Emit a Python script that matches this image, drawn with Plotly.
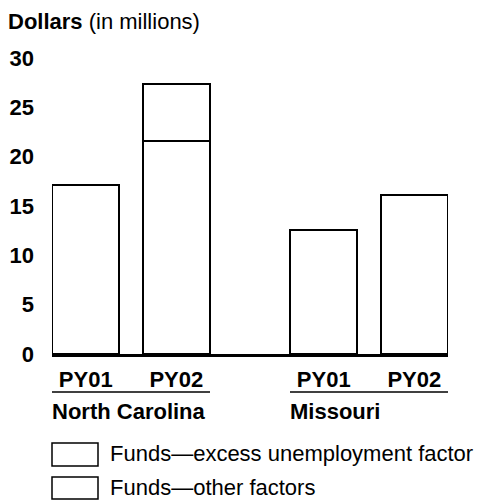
import plotly.graph_objects as go

# ---- data ----
states = ["North Carolina", "Missouri"]
years = ["PY01", "PY02"]
series_names = ["Funds\u2014excess unemployment factor", "Funds\u2014other factors"]
excess_unemp = [None, 5.75, None, None]      # top segment
other_factors = [17.1, 21.6, 12.6, 16.1]     # bottom segment
y_ticks = [0, 5, 10, 15, 20, 25, 30]

# ---- layout helpers ----
FONT = "Liberation Sans, Arial, sans-serif"
group_gap = 2.627   # spacing between group starts (in bar slots)
bar_w = 0.744
positions = []
tick_text = []
for gi, st in enumerate(states):
    for yi, yr in enumerate(years):
        positions.append(gi * group_gap + yi)
        tick_text.append(yr)

OFF = 8  # page body margin
W, H = 485 - OFF, 500 - OFF
PL, PR, PT, PB = 52, 448, 58, 354   # plot area in page pixels
ml, mr = PL - OFF, W - (PR - OFF)
mt, mb = PT - OFF, H - (PB - OFF)
pw, ph = PR - PL, PB - PT

def px_x(px):
    return (px - PL) / pw

def px_y(py):
    return (PB - py) / ph

fig = go.Figure()
fig.add_trace(go.Bar(
    x=positions, y=other_factors, name=series_names[1], width=bar_w,
    marker=dict(color="white", line=dict(color="black", width=2)),
    showlegend=False,
))
fig.add_trace(go.Bar(
    x=positions, y=excess_unemp, name=series_names[0], width=bar_w,
    marker=dict(color="white", line=dict(color="black", width=2)),
    showlegend=False,
))

shapes = []
annotations = []
x_lo = positions[0] - bar_w / 2
x_hi = positions[-1] + bar_w / 2

def data_to_paper(x):
    return (x - x_lo) / (x_hi - x_lo)

# group underlines and labels
for gi, st in enumerate(states):
    x0 = positions[gi * 2] - bar_w / 2
    x1 = positions[gi * 2 + 1] + bar_w / 2
    shapes.append(dict(type="line", xref="x", yref="paper", x0=x0, x1=x1,
                       y0=px_y(392), y1=px_y(392), line=dict(color="black", width=1.5)))
    annotations.append(dict(text="<b>%s</b>" % st, xref="paper", yref="paper",
                            x=data_to_paper(x0) - 2 / pw, y=px_y(411),
                            xanchor="left", yanchor="middle", showarrow=False,
                            font=dict(family=FONT, size=22, color="black")))

# legend (manual, large boxes)
leg_rows = [(443, 466), (477, 499)]
for (t, b), name in zip(leg_rows, series_names):
    shapes.append(dict(type="rect", xref="paper", yref="paper", x0=px_x(52), x1=px_x(98),
                       y0=px_y(b), y1=px_y(t), fillcolor="white",
                       line=dict(color="black", width=1.5)))
    annotations.append(dict(text=name, xref="paper", yref="paper", x=px_x(108), y=px_y((t + b) / 2 - 1),
                            xanchor="left", yanchor="middle", showarrow=False,
                            font=dict(family=FONT, size=22, color="black")))

# y-axis title
annotations.append(dict(text="<b>Dollars</b> (in millions)", xref="paper", yref="paper",
                        x=px_x(6), y=px_y(22), xanchor="left", yanchor="middle", showarrow=False,
                        font=dict(family=FONT, size=22, color="black")))

fig.update_layout(
    width=W, height=H,
    margin=dict(l=ml, r=mr, t=mt, b=mb, autoexpand=False),
    barmode="stack",
    plot_bgcolor="white", paper_bgcolor="white",
    showlegend=False,
    shapes=shapes, annotations=annotations,
    font=dict(family=FONT, size=22, color="black"),
)
fig.update_xaxes(
    range=[x_lo, x_hi],
    tickvals=positions, ticktext=["<b>%s</b>" % t for t in tick_text],
    showline=True, linecolor="black", linewidth=3, showgrid=False, zeroline=False,
    ticks="", ticklabelstandoff=4, automargin=False,
    tickfont=dict(family=FONT, size=22, color="black"),
)
fig.update_yaxes(
    range=[0, 30], tickvals=y_ticks, ticktext=["<b>%d</b>" % v for v in y_ticks],
    showgrid=False, zeroline=False, showline=False, ticks="", ticklabelstandoff=17,
    automargin=False,
    tickfont=dict(family=FONT, size=22, color="black"),
)

fig.write_html("out.html")
